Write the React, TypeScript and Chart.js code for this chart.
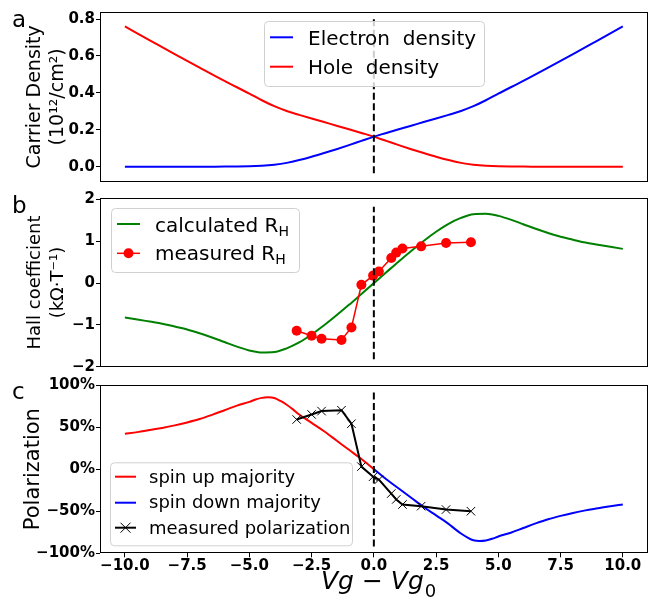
import { useEffect, useRef } from 'react';
import { Chart, registerables } from 'chart.js';

Chart.register(...registerables);

const FONT = '"DejaVu Sans", "Liberation Sans", sans-serif';

// ---------- Panel a: carrier density (10^12 / cm^2)
const densityX = [-10, -9, -8, -7, -6, -5, -4.5, -4, -3.5, -3, -2.5, -2, -1.5, -1, -0.5, 0, 0.5, 1, 1.5, 2, 2.5, 3, 3.5, 4, 4.5, 5, 6, 7, 8, 9, 10];
const holeDensity = [0.76, 0.685, 0.61, 0.537, 0.465, 0.396, 0.36, 0.328, 0.302, 0.281, 0.261, 0.242, 0.222, 0.203, 0.183, 0.163, 0.14, 0.117, 0.095, 0.074, 0.054, 0.036, 0.021, 0.011, 0.005, 0.002, 0.001, 0, 0, 0, 0];
const electronDensity = [0, 0, 0, 0, 0.001, 0.002, 0.005, 0.011, 0.021, 0.036, 0.054, 0.074, 0.095, 0.117, 0.14, 0.163, 0.183, 0.203, 0.222, 0.242, 0.261, 0.281, 0.302, 0.328, 0.36, 0.396, 0.465, 0.537, 0.61, 0.685, 0.76];
const densityTicks = [0, 0.2, 0.4, 0.6, 0.8];
const densityDash = [-0.035, 0.8];

// ---------- Panel b: Hall coefficient (kOhm/T)
const hallX = [-10, -9.5, -9, -8.5, -8, -7.5, -7, -6.5, -6, -5.5, -5, -4.5, -4, -3.5, -3, -2.5, -2, -1.5, -1, -0.5, 0, 0.5, 1, 1.5, 2, 2.5, 3, 3.5, 4, 4.5, 5, 5.5, 6, 6.5, 7, 7.5, 8, 8.5, 9, 9.5, 10];
const hallCalculated = [-0.82, -0.87, -0.92, -0.97, -1.04, -1.11, -1.2, -1.3, -1.41, -1.52, -1.61, -1.66, -1.65, -1.56, -1.42, -1.23, -1.01, -0.77, -0.52, -0.26, 0, 0.26, 0.52, 0.77, 1.01, 1.23, 1.42, 1.56, 1.65, 1.66, 1.61, 1.52, 1.41, 1.3, 1.2, 1.11, 1.04, 0.97, 0.92, 0.87, 0.82];
const measuredX = [-3.1, -2.5, -2.1, -1.3, -0.9, -0.5, -0.03, 0.2, 0.7, 0.9, 1.15, 1.9, 2.9, 3.9];
const hallMeasured = [-1.14, -1.26, -1.33, -1.36, -1.06, -0.04, 0.18, 0.28, 0.6, 0.73, 0.83, 0.88, 0.96, 0.98];
const hallTicks = [-2, -1, 0, 1, 2];
const hallDash = [-1.82, 1.83];

// ---------- Panel c: polarization (%)
const spinUpX = [-10, -9.5, -9, -8.5, -8, -7.5, -7, -6.5, -6, -5.5, -5, -4.75, -4.5, -4.25, -4, -3.75, -3.5, -3.25, -3, -2.5, -2, -1.5, -1, -0.5, 0];
const spinUp = [42, 44, 46.5, 49, 52, 55.5, 59.5, 64.5, 70, 75.5, 80, 82.8, 84.7, 85.3, 84.5, 81, 76.5, 71, 65, 55, 45, 34, 23, 12, 0];
const spinDownX = [0, 0.5, 1, 1.5, 2, 2.5, 3, 3.25, 3.5, 3.75, 4, 4.25, 4.5, 4.75, 5, 5.5, 6, 6.5, 7, 7.5, 8, 8.5, 9, 9.5, 10];
const spinDown = [0, -12, -23, -34, -45, -55, -65, -71, -76.5, -81, -84.5, -85.3, -84.7, -82.8, -80, -75.5, -70, -64.5, -59.5, -55.5, -52, -49, -46.5, -44, -42];
const polarizationMeasured = [59, 65, 69, 70, 54, 3, -9, -12.5, -29, -36, -42, -44, -48, -50];
const polarizationTicks = [-100, -50, 0, 50, 100];
const polarizationDash = [-92, 93];

// ---------- shared x axis
const xTicks = [-10, -7.5, -5, -2.5, 0, 2.5, 5, 7.5, 10];
const X_MIN = -11;
const X_MAX = 11;

const minus = (s: string) => s.replace('-', '\u2212');
const clean = (v: number) => (Math.abs(v) < 1e-9 ? 0 : v);

const pts = (xs: number[], ys: number[]) => xs.map((x, i) => ({ x, y: ys[i] }));

function yScale(opts: {
  min: number; max: number; ticks: number[]; fmt: (v: number) => string;
  title: string | string[]; titleSize: number; lineHeight: number; width: number;
}) {
  return {
    type: 'linear',
    position: 'left',
    min: opts.min,
    max: opts.max,
    afterBuildTicks: (s: any) => { s.ticks = opts.ticks.map((v) => ({ value: v })); },
    afterFit: (s: any) => { s.width = opts.width; s.paddingTop = 0; s.paddingBottom = 0; },
    ticks: {
      callback: (v: any) => opts.fmt(clean(Number(v))),
      font: { family: FONT, size: 15, weight: 'bold' },
      color: '#000',
      padding: 1,
      autoSkip: false,
      maxRotation: 0,
    },
    grid: { display: true, drawOnChartArea: false, drawTicks: true, tickLength: 4, color: '#000', lineWidth: 1 },
    border: { display: false },
    title: {
      display: true,
      text: opts.title,
      font: { family: FONT, size: opts.titleSize, lineHeight: opts.lineHeight },
      color: '#000',
      padding: 0,
    },
  };
}

function hiddenX() {
  return { type: 'linear', min: X_MIN, max: X_MAX, display: false };
}

function shownX() {
  return {
    type: 'linear',
    position: 'bottom',
    min: X_MIN,
    max: X_MAX,
    afterBuildTicks: (s: any) => { s.ticks = xTicks.map((v) => ({ value: v })); },
    afterFit: (s: any) => { s.height = 46.7; s.paddingLeft = 0; s.paddingRight = 0; },
    ticks: {
      callback: (v: any) => minus(clean(Number(v)).toFixed(1)),
      font: { family: FONT, size: 15, weight: 'bold' },
      color: '#000',
      padding: 0,
      autoSkip: false,
      maxRotation: 0,
    },
    grid: { display: true, drawOnChartArea: false, drawTicks: true, tickLength: 4, color: '#000', lineWidth: 1 },
    border: { display: false },
  };
}

const boxPlugin = {
  id: 'boxFrame',
  afterDatasetsDraw(chart: any) {
    const { ctx, chartArea: a } = chart;
    ctx.save();
    ctx.strokeStyle = '#000';
    ctx.lineWidth = 1;
    const l = Math.round(a.left) + 0.5;
    const t = Math.round(a.top) + 0.5;
    const r = Math.round(a.right) - 0.5;
    const b = Math.round(a.bottom) - 0.5;
    ctx.strokeRect(l, t, r - l, b - t);
    ctx.restore();
  },
};

type LegendItem = { label: string; sub?: string; color: string; marker?: 'circle' | 'cross' };
type LegendLayout = {
  x: number; y: number; w: number; h: number;
  rows: number[]; baselines: number[]; h0: number; h1: number; textX: number; size: number;
};

function roundRect(ctx: CanvasRenderingContext2D, x: number, y: number, w: number, h: number, r: number) {
  ctx.beginPath();
  ctx.moveTo(x + r, y);
  ctx.lineTo(x + w - r, y);
  ctx.arcTo(x + w, y, x + w, y + r, r);
  ctx.lineTo(x + w, y + h - r);
  ctx.arcTo(x + w, y + h, x + w - r, y + h, r);
  ctx.lineTo(x + r, y + h);
  ctx.arcTo(x, y + h, x, y + h - r, r);
  ctx.lineTo(x, y + r);
  ctx.arcTo(x, y, x + r, y, r);
  ctx.closePath();
}

function drawLegend(ctx: CanvasRenderingContext2D, items: LegendItem[], L: LegendLayout) {
  ctx.save();
  roundRect(ctx, L.x + 0.5, L.y + 0.5, L.w, L.h, 4);
  ctx.fillStyle = 'rgba(255,255,255,0.8)';
  ctx.fill();
  ctx.strokeStyle = '#d0d0d0';
  ctx.lineWidth = 1;
  ctx.stroke();
  items.forEach((it, i) => {
    const cy = L.rows[i];
    ctx.strokeStyle = it.color;
    ctx.lineWidth = it.marker === 'circle' ? 1.5 : 2;
    ctx.beginPath();
    ctx.moveTo(L.h0, cy);
    ctx.lineTo(L.h1, cy);
    ctx.stroke();
    const mx = (L.h0 + L.h1) / 2;
    if (it.marker === 'circle') {
      ctx.fillStyle = it.color;
      ctx.beginPath();
      ctx.arc(mx, cy, 5, 0, Math.PI * 2);
      ctx.fill();
    } else if (it.marker === 'cross') {
      ctx.lineWidth = 1;
      ctx.beginPath();
      ctx.moveTo(mx - 5, cy - 5);
      ctx.lineTo(mx + 5, cy + 5);
      ctx.moveTo(mx - 5, cy + 5);
      ctx.lineTo(mx + 5, cy - 5);
      ctx.stroke();
    }
    ctx.fillStyle = '#000';
    ctx.textBaseline = 'alphabetic';
    ctx.textAlign = 'left';
    ctx.font = `${L.size}px ${FONT}`;
    ctx.fillText(it.label, L.textX, L.baselines[i]);
    if (it.sub) {
      const w = ctx.measureText(it.label).width;
      ctx.font = `${Math.round(L.size * 0.7)}px ${FONT}`;
      ctx.fillText(it.sub, L.textX + w, L.baselines[i] + L.size * 0.2);
    }
  });
  ctx.restore();
}

function overlay(draw: (ctx: CanvasRenderingContext2D) => void) {
  return {
    id: 'overlay',
    afterDraw(chart: any) {
      const ctx = chart.ctx as CanvasRenderingContext2D;
      ctx.save();
      draw(ctx);
      ctx.restore();
    },
  };
}

function panelLetter(ctx: CanvasRenderingContext2D, letter: string, baseline: number) {
  ctx.fillStyle = '#000';
  ctx.font = `23px ${FONT}`;
  ctx.textAlign = 'left';
  ctx.textBaseline = 'alphabetic';
  ctx.fillText(letter, 12, baseline);
}

const baseOptions = (padding: any, scales: any) => ({
  responsive: false,
  animation: false,
  events: [],
  layout: { padding },
  plugins: { legend: { display: false }, tooltip: { enabled: false } },
  scales,
});

const dashDataset = (ys: number[]) => ({
  data: [{ x: 0, y: ys[0] }, { x: 0, y: ys[1] }],
  borderColor: '#000',
  borderWidth: 2,
  borderDash: [7, 3.5],
  pointRadius: 0,
  tension: 0,
});

const curve = (data: any[], color: string) => ({
  data,
  borderColor: color,
  borderWidth: 2,
  pointRadius: 0,
  cubicInterpolationMode: 'monotone',
});

function configA(): any {
  return {
    type: 'line',
    data: {
      datasets: [
        dashDataset(densityDash),
        curve(pts(densityX, electronDensity), '#0000ff'),
        curve(pts(densityX, holeDensity), '#ff0000'),
      ],
    },
    options: baseOptions({ left: 24, right: 11.3, top: 12, bottom: 8.3 }, {
      x: hiddenX(),
      y: yScale({
        min: -0.081, max: 0.838, ticks: densityTicks, fmt: (v) => v.toFixed(1),
        title: ['Carrier Density', '(10\u00b9\u00b2/cm\u00b2)'], titleSize: 19, lineHeight: 1.2, width: 76,
      }),
    }),
    plugins: [
      boxPlugin,
      overlay((ctx) => {
        panelLetter(ctx, 'a', 27);
        drawLegend(ctx, [
          { label: 'Electron  density', color: '#0000ff' },
          { label: 'Hole  density', color: '#ff0000' },
        ], { x: 264, y: 21, w: 220, h: 65, rows: [37.3, 66.7], baselines: [44.5, 74], h0: 270, h1: 293, textX: 308, size: 20 });
      }),
    ],
  };
}

function configB(): any {
  return {
    type: 'line',
    data: {
      datasets: [
        dashDataset(hallDash),
        {
          data: pts(measuredX, hallMeasured),
          borderColor: '#ff0000',
          backgroundColor: '#ff0000',
          borderWidth: 1.5,
          pointRadius: 5,
          pointBorderWidth: 0,
          pointBackgroundColor: '#ff0000',
          tension: 0,
        },
        curve(pts(hallX, hallCalculated), '#008000'),
      ],
    },
    options: baseOptions({ left: 24, right: 11.3, top: 8.3, bottom: 8.3 }, {
      x: hiddenX(),
      y: yScale({
        min: -2, max: 2.03, ticks: hallTicks, fmt: (v) => minus(String(v)),
        title: ['Hall coefficient', '(k\u03a9\u00b7T\u207b\u00b9)'], titleSize: 18, lineHeight: 1.28, width: 76,
      }),
    }),
    plugins: [
      boxPlugin,
      overlay((ctx) => {
        panelLetter(ctx, 'b', 23.3);
        drawLegend(ctx, [
          { label: 'calculated R', sub: 'H', color: '#008000' },
          { label: 'measured R', sub: 'H', color: '#ff0000', marker: 'circle' },
        ], { x: 111, y: 18, w: 188, h: 64, rows: [34, 63.3], baselines: [41.7, 70], h0: 117, h1: 140, textX: 155, size: 20 });
      }),
    ],
  };
}

function configC(): any {
  return {
    type: 'line',
    data: {
      datasets: [
        dashDataset(polarizationDash),
        {
          data: pts(measuredX, polarizationMeasured),
          borderColor: '#000',
          borderWidth: 2,
          pointStyle: 'crossRot',
          pointRadius: 6,
          pointBorderWidth: 1,
          pointBorderColor: '#000',
          tension: 0,
        },
        curve(pts(spinUpX, spinUp), '#ff0000'),
        curve(pts(spinDownX, spinDown), '#0000ff'),
      ],
    },
    options: baseOptions({ left: 21, right: 11.3, top: 10, bottom: 0 }, {
      x: shownX(),
      y: yScale({
        min: -100, max: 100, ticks: polarizationTicks, fmt: (v) => minus(`${v}%`),
        title: 'Polarization', titleSize: 21, lineHeight: 1.2, width: 79,
      }),
    }),
    plugins: [
      boxPlugin,
      overlay((ctx) => {
        panelLetter(ctx, 'c', 24.3);
        drawLegend(ctx, [
          { label: 'spin up majority', color: '#ff0000' },
          { label: 'spin down majority', color: '#0000ff' },
          { label: 'measured polarization', color: '#000', marker: 'cross' },
        ], { x: 110, y: 87.3, w: 242, h: 83, rows: [101.7, 127.7, 152.7], baselines: [107.7, 133.3, 159], h0: 115, h1: 136, textX: 149, size: 18 });
        // x-axis title: Vg − Vg0
        ctx.fillStyle = '#000';
        ctx.textAlign = 'left';
        ctx.textBaseline = 'alphabetic';
        ctx.font = `italic 25px ${FONT}`;
        const main = 'Vg \u2212 Vg';
        ctx.fillText(main, 321, 214);
        const w = ctx.measureText(main).width;
        ctx.font = `18px ${FONT}`;
        ctx.fillText('0', 321 + w + 1, 222);
      }),
    ],
  };
}

export default function App() {
  const ra = useRef<HTMLCanvasElement>(null);
  const rb = useRef<HTMLCanvasElement>(null);
  const rc = useRef<HTMLCanvasElement>(null);

  useEffect(() => {
    const charts = [
      new Chart(ra.current as HTMLCanvasElement, configA()),
      new Chart(rb.current as HTMLCanvasElement, configB()),
      new Chart(rc.current as HTMLCanvasElement, configC()),
    ];
    return () => charts.forEach((c) => c.destroy());
  }, []);

  const cs = (top: number, h: number): any => ({ position: 'absolute', left: 0, top, width: 659, height: h, display: 'block' });

  return (
    <div style={{ position: 'absolute', left: 0, top: 0, width: 659, height: 600, background: '#fff' }}>
      <canvas ref={ra} width={659} height={190} style={cs(0, 190)} />
      <canvas ref={rb} width={659} height={185} style={cs(190, 185)} />
      <canvas ref={rc} width={659} height={225} style={cs(375, 225)} />
    </div>
  );
}
